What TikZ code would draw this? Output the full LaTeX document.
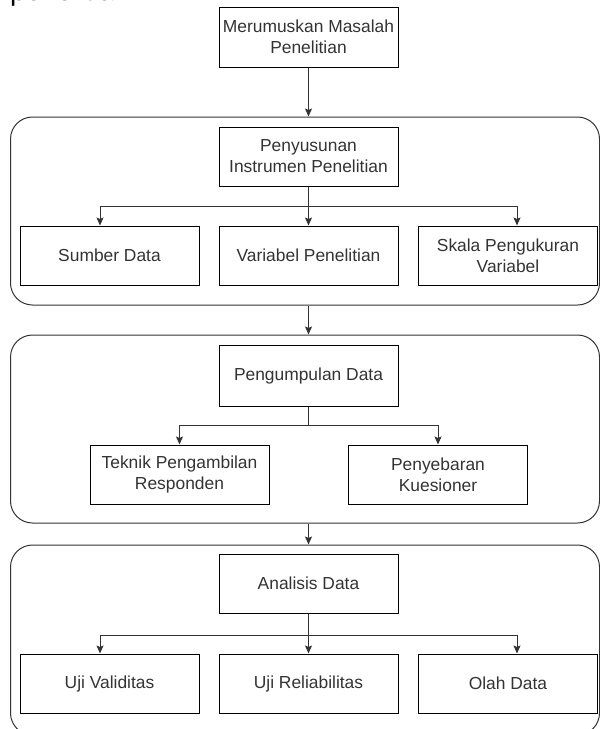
\documentclass[tikz,border=0pt]{standalone}
\usepackage{fontspec}
\setmainfont{Liberation Sans}
\usetikzlibrary{arrows.meta}
\definecolor{txtgray}{HTML}{333333}
\definecolor{linegray}{HTML}{333333}
\tikzset{
  box/.style={draw=black, line width=1pt, minimum width=179pt, minimum height=59pt,
    inner sep=0pt, align=center, text=txtgray,
    font=\fontsize{17.4pt}{21pt}\selectfont},
  container/.style={draw=linegray, line width=1pt, rounded corners=22pt, inner sep=0pt},
  arr/.style={draw=linegray, line width=1pt, -{Stealth[length=8pt,width=7pt,inset=1.5pt]}},
  ln/.style={draw=linegray, line width=1pt}
}
\begin{document}
\begin{tikzpicture}[x=1pt,y=1pt]
\useasboundingbox (0,0) rectangle (600,-729);
\clip (0,0) rectangle (600,-729);
\node[anchor=base west, inner sep=0pt, font=\fontsize{28pt}{34pt}\selectfont] (cap) at (10,-0.5) {penelitian.};
% containers
\node[container, minimum width=589pt, minimum height=188pt] (C1) at (305,-211) {};
\node[container, minimum width=589pt, minimum height=188pt] (C2) at (305,-429) {};
\node[container, minimum width=589pt, minimum height=190pt] (C3) at (305,-640) {};
% boxes
\node[box, minimum height=60pt] (T) at (308.5,-37) {Merumuskan Masalah\\Penelitian};
\node[box] (P) at (308.5,-156.5) {Penyusunan\\Instrumen Penelitian};
\node[box] (A) at (109.5,-255.5) {Sumber Data};
\node[box] (B) at (308.5,-255.5) {Variabel Penelitian};
\node[box] (C) at (508,-255.5) {Skala Pengukuran\\Variabel};
\node[box, minimum height=61pt] (G) at (308.5,-375.5) {Pengumpulan Data};
\node[box] (K) at (179.5,-474.5) {Teknik Pengambilan\\Responden};
\node[box] (S) at (438,-474.5) {Penyebaran\\Kuesioner};
\node[box] (D) at (308.5,-583.5) {Analisis Data};
\node[box] (U1) at (109.5,-683.5) {Uji Validitas};
\node[box] (U2) at (308.5,-683.5) {Uji Reliabilitas};
\node[box] (U3) at (508,-683.5) {Olah Data};
% connectors between stages
\draw[arr] (T.south) -- (T.south |- C1.north);
\draw[arr] (C1.south -| T.south) -- (T.south |- C2.north);
\draw[arr] (C2.south -| T.south) -- (T.south |- C3.north);
% stage 1
\draw[ln] (P.south) -- ++(0,-20) coordinate (j1);
\draw[arr] (j1) -| ([xshift=-9.5pt]A.north);
\draw[arr] (j1) -- (B.north);
\draw[arr] (j1) -| ([xshift=9pt]C.north);
% stage 2
\draw[ln] (G.south) -- ++(0,-19) coordinate (j2);
\draw[arr] (j2) -| (K.north);
\draw[arr] (j2) -| (S.north);
% stage 3
\draw[ln] (D.south) -- ++(0,-22) coordinate (j3);
\draw[arr] (j3) -| ([xshift=-9.5pt]U1.north);
\draw[arr] (j3) -- (U2.north);
\draw[arr] (j3) -| ([xshift=9pt]U3.north);
\end{tikzpicture}
\end{document}
